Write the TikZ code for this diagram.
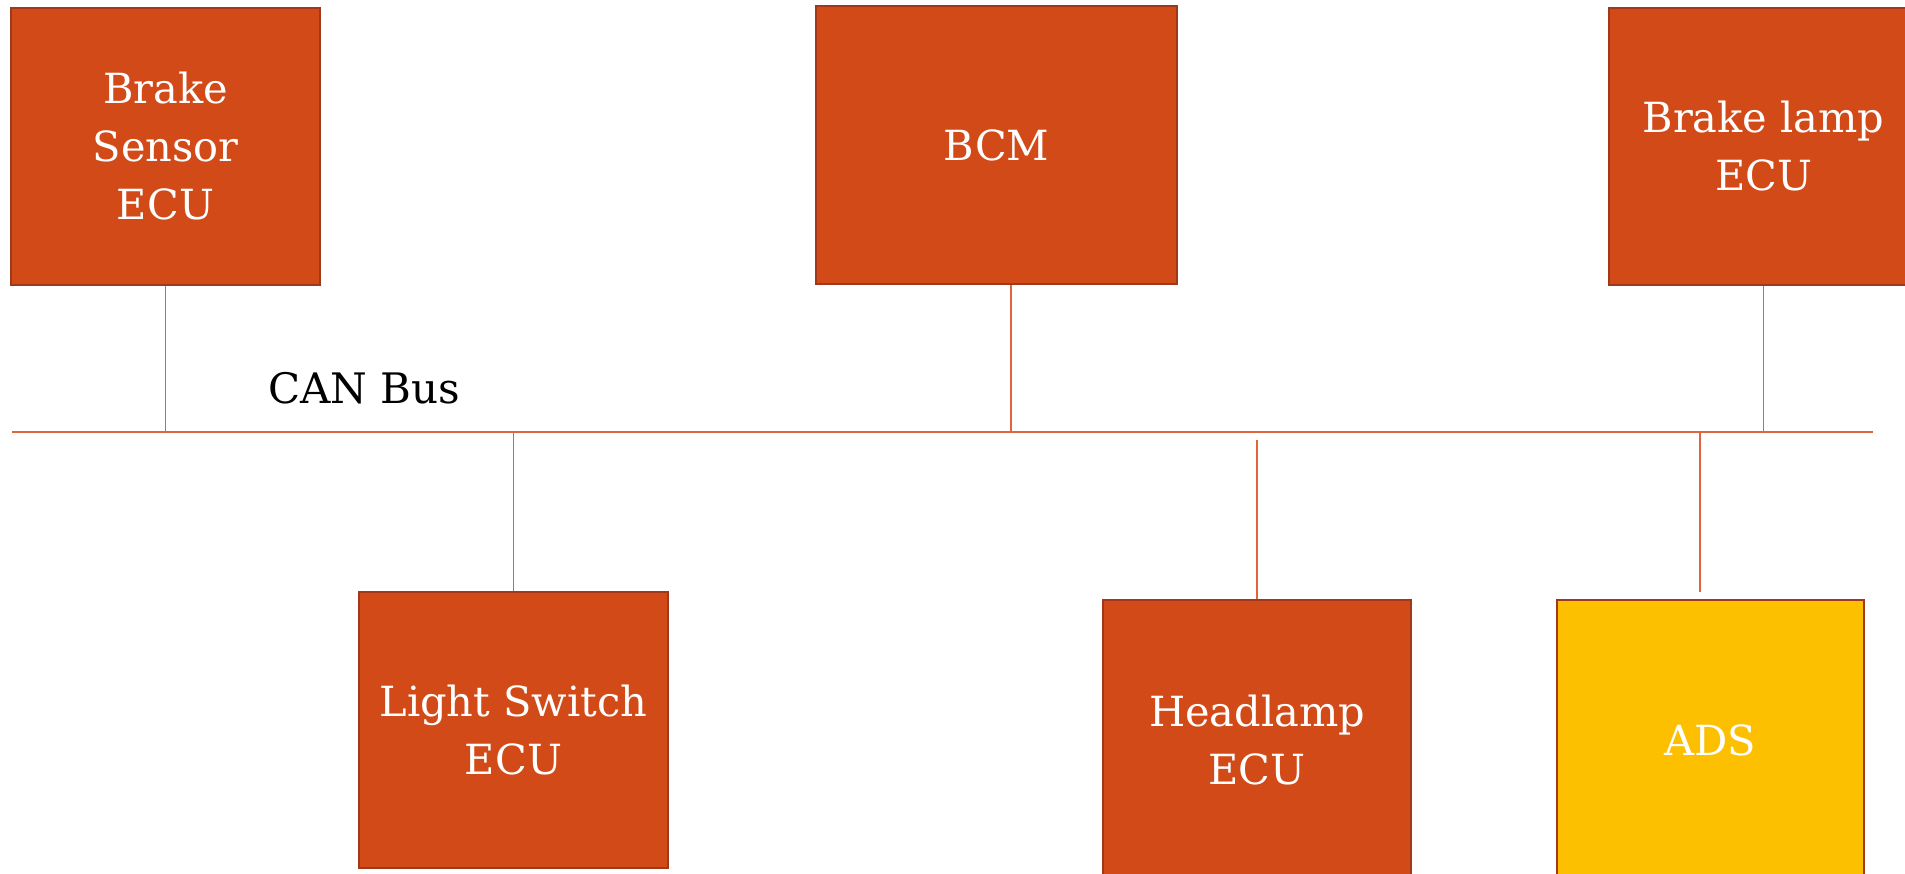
\documentclass[tikz,border=0pt]{standalone}
\usepackage{fontspec}
\setmainfont{DejaVu Serif}
\definecolor{ecufill}{HTML}{D24A18}
\definecolor{ecuedge}{HTML}{A0391A}
\definecolor{adsfill}{HTML}{FDC000}
\definecolor{wire}{HTML}{E0643E}
\tikzset{
  ecubox/.style={draw=ecuedge, line width=2pt, fill=ecufill, text=white, align=center,
    inner sep=0pt, font=\fontsize{41.5}{58}\selectfont},
  adsbox/.style={ecubox, fill=adsfill},
  wireline/.style={draw=wire, line width=1.8pt},
  busline/.style={draw=wire, line width=2pt},
}
\begin{document}
\begin{tikzpicture}[x=1pt,y=-1pt]
\clip (0,0) rectangle (1905,873);
\fill[white] (0,0) rectangle (1905,873);
% boxes
\node[ecubox, minimum width=309pt, minimum height=277pt] (bse) at (165.5,146.5) {Brake\\Sensor\\ECU};
\node[ecubox, minimum width=361pt, minimum height=278pt] (bcm) at (996.5,145) {BCM};
\node[ecubox, minimum width=309pt, minimum height=277pt] (ble) at (1763.5,146.5) {Brake lamp\\ECU};
\node[ecubox, minimum width=309pt, minimum height=276pt] (lse) at (513.5,730) {Light Switch\\ECU};
\node[ecubox, minimum width=308pt, minimum height=280pt] (hle) at (1257,740) {Headlamp\\ECU};
\node[adsbox, minimum width=307pt, minimum height=280pt] (ads) at (1710.5,740) {ADS};
% bus
\coordinate (busL) at (12,432);
\coordinate (busR) at (1873,432);
\draw[busline] (busL) -- (busR);
\node[anchor=base west, inner sep=0pt, font=\fontsize{42}{50}\selectfont] (canlbl) at (268,403) {CAN Bus};
% taps
\coordinate (tapBCM) at (1011,432);
\coordinate (tapHL) at (1257,440);
\coordinate (tapADS) at (1700,432);
\coordinate (endADS) at (1700,592);
\draw[wireline] (bse.south) -- (bse.south |- busL);
\draw[wireline] (bcm.south -| tapBCM) -- (tapBCM);
\draw[wireline] (ble.south) -- (ble.south |- busL);
\draw[wireline] (lse.north |- busL) -- (lse.north);
\draw[wireline] (tapHL) -- (hle.north);
\draw[wireline] (tapADS) -- (endADS);
\end{tikzpicture}
\end{document}
